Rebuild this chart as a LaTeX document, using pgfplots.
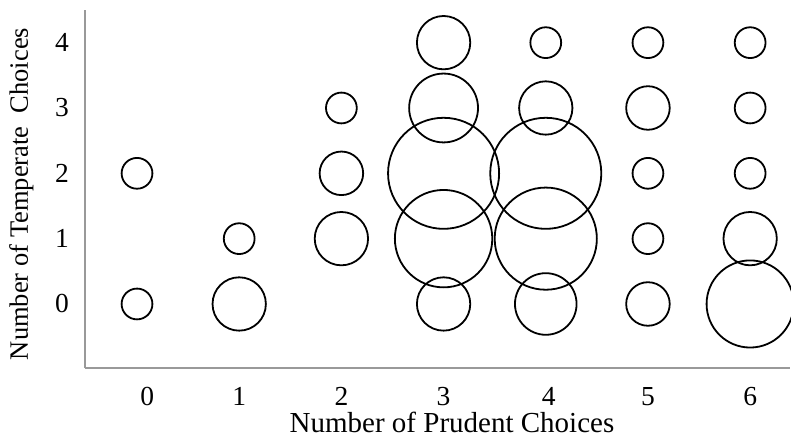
\documentclass[border=0pt]{standalone}
\usepackage{fontspec}
\setmainfont{Liberation Serif}
\usepackage{pgfplots}
\usepackage{pgfplotstable}
\pgfplotsset{compat=1.18}

\pgfplotstableread{
x y v
0 0 1
0 2 1
1 0 3
1 1 1
2 1 3
2 2 2
2 3 1
3 0 3
3 1 10
3 2 13
3 3 5
3 4 3
4 0 4
4 1 11
4 2 13
4 3 3
4 4 1
5 0 2
5 1 1
5 2 1
5 3 2
5 4 1
6 0 8
6 1 3
6 2 1
6 3 1
6 4 1
}\bubbles

\begin{document}
\begin{tikzpicture}
\path[use as bounding box] (-85pt,-71pt) rectangle (706pt,368pt);
\begin{axis}[
  scale only axis,
  width=705pt, height=358pt,
  xmin=-0.509, xmax=6.39,
  ymin=-0.98, ymax=4.5,
  clip=false,
  axis x line=bottom, axis y line=left,
  axis line style={draw=black!40, line width=1.2pt, -},
  xtick={0.1,1,2,3,4.03,5,6},
  xticklabels={0,1,2,3,4,5,6},
  ytick={0,1,2,3,4},
  major tick length=0pt,
  tick style={draw=none},
  /pgf/number format/assume math mode=true,
  tick label style={font=\fontsize{27.5}{32}\selectfont, inner sep=0pt},
  xticklabel shift=19pt,
  yticklabel shift=16pt,
  xlabel={Number of Prudent Choices},
  ylabel={Number of Temperate\ \ Choices},
  every axis x label/.style={at={(axis description cs:0.5206,-0.181)}, anchor=base, font=\fontsize{29}{34}\selectfont, inner sep=0pt},
  every axis y label/.style={at={(axis description cs:-0.0809,0.486)}, rotate=90, anchor=base, font=\fontsize{26.5}{31}\selectfont, inner sep=0pt},
]
\addplot[
  scatter, only marks, mark=o,
  point meta=\thisrow{v},
  scatter/use mapped color={draw=black, fill=none},
  mark options={solid, line width=1.8pt},
  visualization depends on={15.4*sqrt(\thisrow{v}) \as \rad},
  scatter/@pre marker code/.append style={/tikz/mark size=\rad},
] table[x=x, y=y] {\bubbles};
\end{axis}
\end{tikzpicture}
\end{document}
